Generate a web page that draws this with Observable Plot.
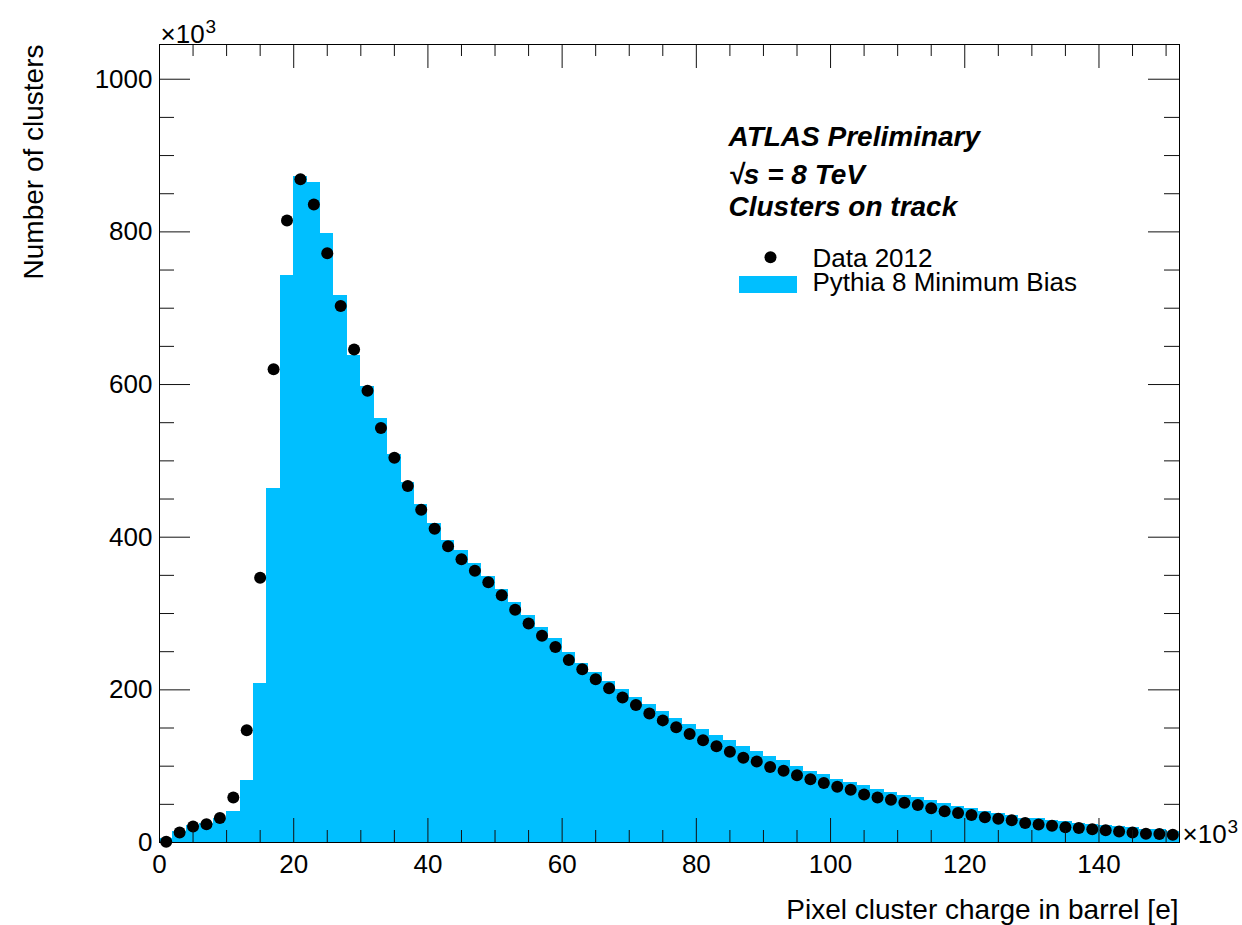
<!DOCTYPE html>
<html><head><meta charset="utf-8">
<script src="https://cdn.jsdelivr.net/npm/d3@7"></script>
<script src="https://cdn.jsdelivr.net/npm/@observablehq/plot@0.6"></script>
<style>html,body{margin:0;padding:0;background:#fff;overflow:hidden;} svg{display:block;}</style>
</head><body><div id="chart"></div>
<script>
// ---- data (values in units of 10^3) ----
const binWidth = 2;
const binStarts = d3.range(0, 152, 2); // 76 bins of 2 (x10^3 e)
const dataCounts = [1, 13, 21, 24, 32, 59, 147, 347, 620, 815,
  869, 836, 772, 703, 646, 592, 543, 504, 467, 436,
  411, 388, 371, 356, 341, 324, 305, 287, 271, 256,
  239, 227, 214, 202, 190, 180, 169, 160, 151, 142,
  134, 126, 119, 111, 106, 99, 94, 88, 83, 78,
  73, 69, 63, 59, 56, 52, 49, 45, 41, 38.5,
  36, 33, 31, 29, 25.5, 23.6, 22, 20, 19, 17.5,
  16, 14.5, 13, 11.5, 11, 10];
const mcCounts = [5, 14, 22, 25, 31, 41, 81, 208, 464, 743,
  873, 865, 798, 717, 638, 597, 556, 508, 472, 443,
  418, 396, 382, 365, 349, 332, 314, 297, 282, 267,
  249, 235, 223, 211, 201, 190, 181, 172, 163, 155,
  148, 140, 133, 126, 119, 113, 107, 100, 93, 89,
  83, 79, 75, 70, 66, 62, 59, 55, 51, 47,
  44, 41, 38, 35, 32, 31, 29, 27, 25, 24,
  22, 21, 19, 17.5, 16.5, 15];
const xMajorTicks = [0, 20, 40, 60, 80, 100, 120, 140];
const yMajorTicks = [0, 200, 400, 600, 800, 1000];
const xMinorTicks = d3.range(5, 152, 5).filter(v => v % 20 !== 0);
const yMinorTicks = d3.range(50, 1045, 50).filter(v => v % 200 !== 0);
const xTitle = "Pixel cluster charge in barrel [e]";
const yTitle = "Number of clusters";
const seriesNames = ["Data 2012", "Pythia 8 Minimum Bias"];
const infoLines = ["ATLAS Preliminary", "√s = 8 TeV", "Clusters on track"];

// ---- layout ----
const W = 1242, H = 925, mL = 159, mR = 63, mT = 44, mB = 83;
const innerW = W - mL - mR, innerH = H - mT - mB;
const FONT = "'Liberation Sans', Arial, Helvetica, sans-serif";
const BLUE = "#00bfff";

const mc = binStarts.map((x0, i) => ({x1: x0, x2: x0 + binWidth, y: mcCounts[i]}));
const pts = binStarts.map((x0, i) => ({x: x0 + binWidth / 2, y: dataCounts[i]}));

const tickStroke = {stroke: "#111", strokeWidth: 1};
const lbl = (t, anchor, dx, dy, extra = {}) =>
  Plot.text([t], {frameAnchor: anchor, textAnchor: "start", lineAnchor: "bottom", dx, dy, ...extra});

const svg = Plot.plot({
  width: W, height: H,
  marginLeft: mL, marginRight: mR, marginTop: mT, marginBottom: mB,
  x: {domain: [0, 152]},
  y: {domain: [0, 1045.5]},
  style: {fontFamily: FONT, background: "white", color: "black"},
  marks: [
    Plot.rectY(mc, {x1: "x1", x2: "x2", y: "y", fill: BLUE, shapeRendering: "crispEdges"}),
    Plot.dot(pts, {x: "x", y: "y", r: 6, fill: "black"}),
    // inside ticks, all four sides
    Plot.tickX(xMajorTicks, {x: d => d, insetTop: innerH - 24, ...tickStroke}),
    Plot.tickX(xMinorTicks, {x: d => d, insetTop: innerH - 12, ...tickStroke}),
    Plot.tickX(xMajorTicks, {x: d => d, insetBottom: innerH - 24, ...tickStroke}),
    Plot.tickX(xMinorTicks, {x: d => d, insetBottom: innerH - 12, ...tickStroke}),
    Plot.tickY(yMajorTicks, {y: d => d, insetRight: innerW - 31, ...tickStroke}),
    Plot.tickY(yMinorTicks, {y: d => d, insetRight: innerW - 15, ...tickStroke}),
    Plot.tickY(yMajorTicks, {y: d => d, insetLeft: innerW - 31, ...tickStroke}),
    Plot.tickY(yMinorTicks, {y: d => d, insetLeft: innerW - 15, ...tickStroke}),
    Plot.frame({stroke: "black", strokeWidth: 1}),
    Plot.axisX({ticks: xMajorTicks, tickSize: 0, tickPadding: 12, fontSize: 26, tickFormat: d => String(d), label: null}),
    Plot.axisY({ticks: yMajorTicks, tickSize: 0, tickPadding: 7, fontSize: 26, tickFormat: d => String(d), label: null}),
    // axis titles
    Plot.text([xTitle], {frameAnchor: "bottom-right", textAnchor: "end", lineAnchor: "bottom", dx: -1, dy: 76, fontSize: 28}),
    Plot.text([yTitle], {frameAnchor: "top-left", textAnchor: "end", lineAnchor: "bottom", rotate: -90, dx: -117, dy: 0, fontSize: 28}),
    // exponent labels (×10 with raised 3)
    lbl("×10", "top-left", 1, -2, {fontSize: 26}),
    lbl("3", "top-left", 46, -12, {fontSize: 19}),
    lbl("×10", "bottom-right", 3, 0, {fontSize: 26}),
    lbl("3", "bottom-right", 48, -10, {fontSize: 19}),
    // info block
    lbl(infoLines[0], "top-left", 569, 101, {fontSize: 28, fontWeight: "bold", fontStyle: "italic"}),
    lbl(infoLines[1], "top-left", 569, 139, {fontSize: 28, fontWeight: "bold", fontStyle: "italic"}),
    lbl(infoLines[2], "top-left", 569, 171, {fontSize: 28, fontWeight: "bold", fontStyle: "italic"}),
    // legend
    Plot.dot([0], {frameAnchor: "top-left", dx: 611, dy: 212.7, r: 6, fill: "black"}),
    lbl(seriesNames[0], "top-left", 653, 222.7, {fontSize: 26}),
    lbl(seriesNames[1], "top-left", 653, 246.5, {fontSize: 26})
  ]
});

// legend swatch for the histogram
d3.select(svg).append("rect")
  .attr("x", 739).attr("y", 276).attr("width", 58).attr("height", 17)
  .attr("fill", BLUE);

document.getElementById("chart").appendChild(svg);
</script>
</body></html>
